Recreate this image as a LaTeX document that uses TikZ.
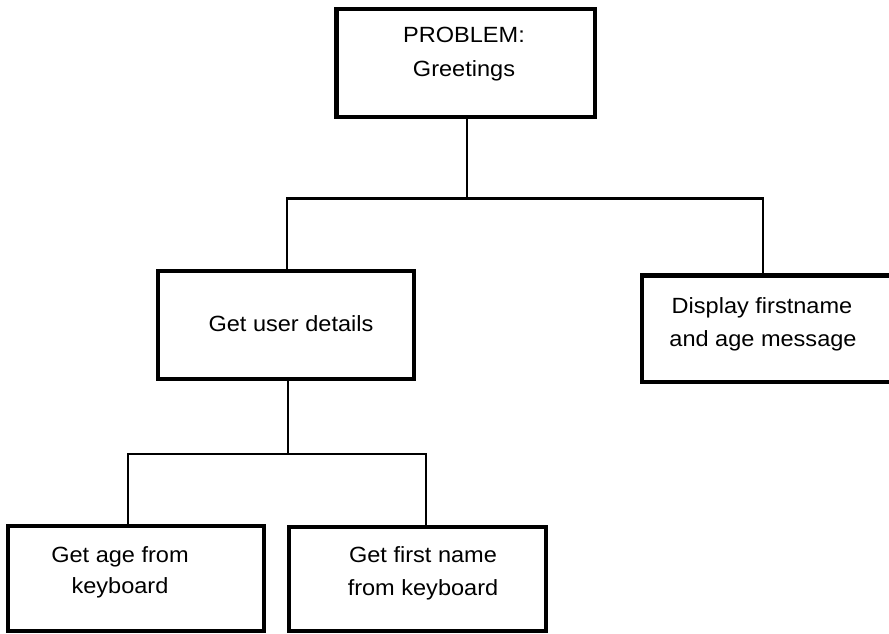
\documentclass[tikz,border=0pt]{standalone}
\usepackage{fontspec}
\newfontfamily\boxfont{Liberation Sans}[FakeStretch=1.07]
\begin{document}
\begin{tikzpicture}[x=1pt,y=-1pt,
  box/.style={draw=black,line width=4.5pt,fill=white,inner sep=0pt,outer sep=0pt},
  wire/.style={draw=black,line width=2.6pt},
  lbl/.style={anchor=base,inner sep=0pt,font=\boxfont\fontsize{22}{33}\selectfont}]
\useasboundingbox (0,0) rectangle (889,633);

% junction points of the connectors
\coordinate (j1) at (467,198.5);
\coordinate (jl1) at (287,198.5);
\coordinate (jr1) at (763,198.5);
\coordinate (j2) at (288,454);
\coordinate (jl2) at (128,454);
\coordinate (jr2) at (426,454);

% boxes
\node[box,minimum width=258.5pt,minimum height=108pt] (top) at (465.75,63) {};
\node[box,minimum width=256pt,minimum height=108pt] (gud) at (286,325) {};
\node[box,minimum width=251pt,minimum height=106.5pt] (disp) at (767.5,328.75) {};
\node[box,minimum width=256pt,minimum height=105pt] (age) at (136,578.5) {};
\node[box,minimum width=257pt,minimum height=104pt] (fname) at (417.5,579) {};

% connectors
\draw[wire] (top.south -| j1) -- (j1);
\draw[wire] (gud.north -| jl1) |- (jr1) -- (disp.north -| jr1);
\draw[wire] (gud.south -| j2) -- (j2);
\draw[wire] (age.north -| jl2) |- (jr2) -- (fname.north -| jr2);

% labels
\node[lbl] (top1) at (464,42) {PROBLEM:};
\node[lbl] (top2) at (464,76) {Greetings};
\node[lbl] (gud1) at (291,331) {Get user details};
\node[lbl] (disp1) at (762,313) {Display firstname};
\node[lbl] (disp2) at (763,346) {and age message};
\node[lbl] (age1) at (120,562) {Get age from};
\node[lbl] (age2) at (120,593) {keyboard};
\node[lbl] (fname1) at (423,562) {Get first name};
\node[lbl] (fname2) at (423,595) {from keyboard};
\end{tikzpicture}
\end{document}
